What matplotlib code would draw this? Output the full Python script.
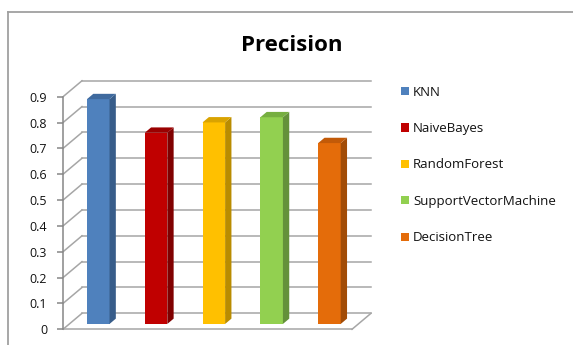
import matplotlib
matplotlib.use("Agg")
import matplotlib.pyplot as plt
from matplotlib.patches import Polygon, Patch
from matplotlib.lines import Line2D

plt.rcParams['font.family'] = ['Open Sans', 'DejaVu Sans']

# data
models = ["KNN", "NaiveBayes", "RandomForest", "SupportVectorMachine", "DecisionTree"]
precision = [0.87, 0.74, 0.78, 0.80, 0.70]
ticks = [0, 0.1, 0.2, 0.3, 0.4, 0.5, 0.6, 0.7, 0.8, 0.9]
tick_labels = ["0", "0.1", "0.2", "0.3", "0.4", "0.5", "0.6", "0.7", "0.8", "0.9"]

front_colors = ["#4F81BD", "#C00000", "#FFC000", "#92D050", "#E46C0A"]
side_colors = ["#385D8A", "#800000", "#B98C00", "#64913A", "#A24C07"]
top_colors = ["#3F6A9E", "#9A0000", "#D9A300", "#76AE40", "#C25A08"]

W, H = 573, 345
fig = plt.figure(figsize=(W / 100, H / 100), dpi=100)

# pixel geometry of the plotting box
px_x0, px_unit_x = 63.0, 57.8          # x = 0 position, pixels per category
px_y0, px_unit_y = 329.3, 258.4        # value 0 (front), pixels per 1.0
x_lo, x_hi = 0.0, 5.45
y_lo, y_hi = -0.03, 1.0
left = px_x0 / W
width = (x_hi - x_lo) * px_unit_x / W
bottom = (H - (px_y0 - y_lo * px_unit_y)) / H
height = (y_hi - y_lo) * px_unit_y / H
ax = fig.add_axes([left, bottom, width, height])
ax.set_xlim(x_lo, x_hi)
ax.set_ylim(y_lo, y_hi)
ax.patch.set_visible(False)

# oblique depth vector (full floor depth)
DX = 19.0 / px_unit_x
DY = 16.0 / px_unit_y
n = len(models)
grid_c = "#A6A6A6"

for v in ticks:
    ax.plot([DX, n + DX], [v + DY, v + DY], color=grid_c, lw=1.1, zorder=1)
    ax.plot([0, DX], [v, v + DY], color=grid_c, lw=1.1, zorder=1)
ax.plot([0, n], [0, 0], color=grid_c, lw=1.1, zorder=1)
ax.plot([n, n + DX], [0, DY], color=grid_c, lw=1.1, zorder=1)

# bars
bw = 0.39
d0, dd = 1 / 3, 1 / 3
for i, v in enumerate(precision):
    x0 = i + 0.5 - bw / 2 + d0 * DX
    y0 = d0 * DY
    ox, oy = dd * DX, dd * DY
    front = Polygon([(x0, y0), (x0 + bw, y0), (x0 + bw, y0 + v), (x0, y0 + v)],
                    closed=True, fc=front_colors[i], ec="none", zorder=3)
    side = Polygon([(x0 + bw, y0), (x0 + bw + ox, y0 + oy), (x0 + bw + ox, y0 + oy + v),
                    (x0 + bw, y0 + v)], closed=True, fc=side_colors[i], ec="none", zorder=3)
    top = Polygon([(x0, y0 + v), (x0 + bw, y0 + v), (x0 + bw + ox, y0 + oy + v),
                   (x0 + ox, y0 + oy + v)], closed=True, fc=top_colors[i], ec="none", zorder=3)
    for p in (front, side, top):
        ax.add_patch(p)

# front value axis
for s in ("top", "right", "bottom"):
    ax.spines[s].set_visible(False)
ax.spines["left"].set_bounds(0, 0.9)
ax.spines["left"].set_color("#868686")
ax.spines["left"].set_linewidth(1.1)
ax.set_xticks([])
ax.set_yticks(ticks)
ax.set_yticklabels(tick_labels)
ax.tick_params(axis="y", length=4.5, width=1.1, color="#868686", pad=7.0,
               labelsize=9.0, labelcolor="#111111")

# title
fig.text(292 / W, 1 - 51 / H, "Precision", ha="center", va="baseline",
         fontsize=16, fontweight="bold", color="black")

# legend
handles = [Patch(facecolor=c, edgecolor="none") for c in front_colors]
fig.legend(handles, models, loc="upper left", bbox_to_anchor=(401 / W, 1 - 85.5 / H),
           frameon=False, fontsize=9.5, labelspacing=1.78, handlelength=0.6,
           handleheight=0.6, handletextpad=0.3, borderpad=0, borderaxespad=0,
           labelcolor="#111111")

# chart border
fig.add_artist(Line2D([8 / W, 1], [1 - 12 / H, 1 - 12 / H], transform=fig.transFigure,
                      color="#A0A0A0", lw=1.3))
fig.add_artist(Line2D([8 / W, 8 / W], [0, 1 - 12 / H], transform=fig.transFigure,
                      color="#A0A0A0", lw=1.3))

fig.savefig("out.png", dpi=100)
